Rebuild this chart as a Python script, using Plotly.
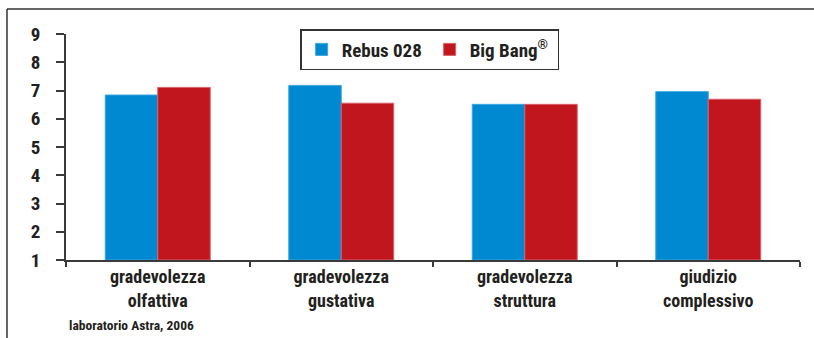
import plotly.graph_objects as go

categories = ["gradevolezza<br>olfattiva", "gradevolezza<br>gustativa",
              "gradevolezza<br>struttura", "giudizio<br>complessivo"]
rebus = [6.84, 7.18, 6.51, 6.96]
bigbang = [7.11, 6.55, 6.51, 6.69]
y_ticks = [1, 2, 3, 4, 5, 6, 7, 8, 9]

FONT = "Liberation Sans Narrow, Roboto Condensed, Arial Narrow, sans-serif"
TXT = "#231F20"
AX = "#3a3a3a"

fig = go.Figure()
fig.add_trace(go.Bar(name="<b>Rebus 028</b>", x=categories, y=[v - 1 for v in rebus], base=1,
                     marker=dict(color="#0088D0", line=dict(color="#3AA6E0", width=1))))
fig.add_trace(go.Bar(name="<b>Big Bang<sup>®</sup></b>", x=categories, y=[v - 1 for v in bigbang], base=1,
                     marker=dict(color="#C1161E", line=dict(color="#D8606A", width=1))))

fig.update_layout(
    width=814, height=338,
    margin=dict(l=66, r=14, t=34, b=78),
    paper_bgcolor="white", plot_bgcolor="white",
    barmode="group", bargap=0.428, bargroupgap=0,
    font=dict(family=FONT, color=TXT),
    showlegend=True,
    legend=dict(orientation="h", x=0.319, y=1.022, xanchor="left", yanchor="top",
                bordercolor="#333", borderwidth=1.5, bgcolor="white",
                font=dict(size=19, family=FONT, color=TXT),
                itemwidth=30, tracegroupgap=0, entrywidth=83),
    xaxis=dict(type="category", range=[-0.5, 3.5], showline=True, linecolor=AX, linewidth=1.5,
               ticks="outside", tickson="boundaries", ticklen=5, tickcolor=AX, tickwidth=1.5,
               tickfont=dict(size=18, family=FONT, color=TXT), showgrid=False, zeroline=False),
    yaxis=dict(range=[1, 9], tickvals=y_ticks, ticktext=[f"<b>{v}</b>" for v in y_ticks],
               showline=True, linecolor=AX, linewidth=1.5,
               ticks="outside", ticklen=8, tickcolor=AX, tickwidth=1.5, ticklabelstandoff=12,
               tickfont=dict(size=19, family=FONT, color=TXT), showgrid=False, zeroline=False),
    shapes=[
        dict(type="line", xref="paper", yref="paper", x0=-0.0804, x1=1.03, y0=1.1106, y1=1.1106,
             line=dict(color="#333", width=1.5)),
        dict(type="line", xref="paper", yref="paper", x0=-0.0804, x1=-0.0804, y0=1.1106, y1=-0.36,
             line=dict(color="#333", width=1.5)),
    ],
    annotations=[
        dict(text="<b>laboratorio Astra, 2006</b>", xref="paper", yref="paper",
             x=0.002, y=-0.288, xanchor="left", yanchor="middle", showarrow=False,
             font=dict(size=13.5, family=FONT, color=TXT)),
    ],
)
fig.update_xaxes(ticktext=[f"<b>{c}</b>" for c in categories], tickvals=categories)

fig.write_html("out.html")
